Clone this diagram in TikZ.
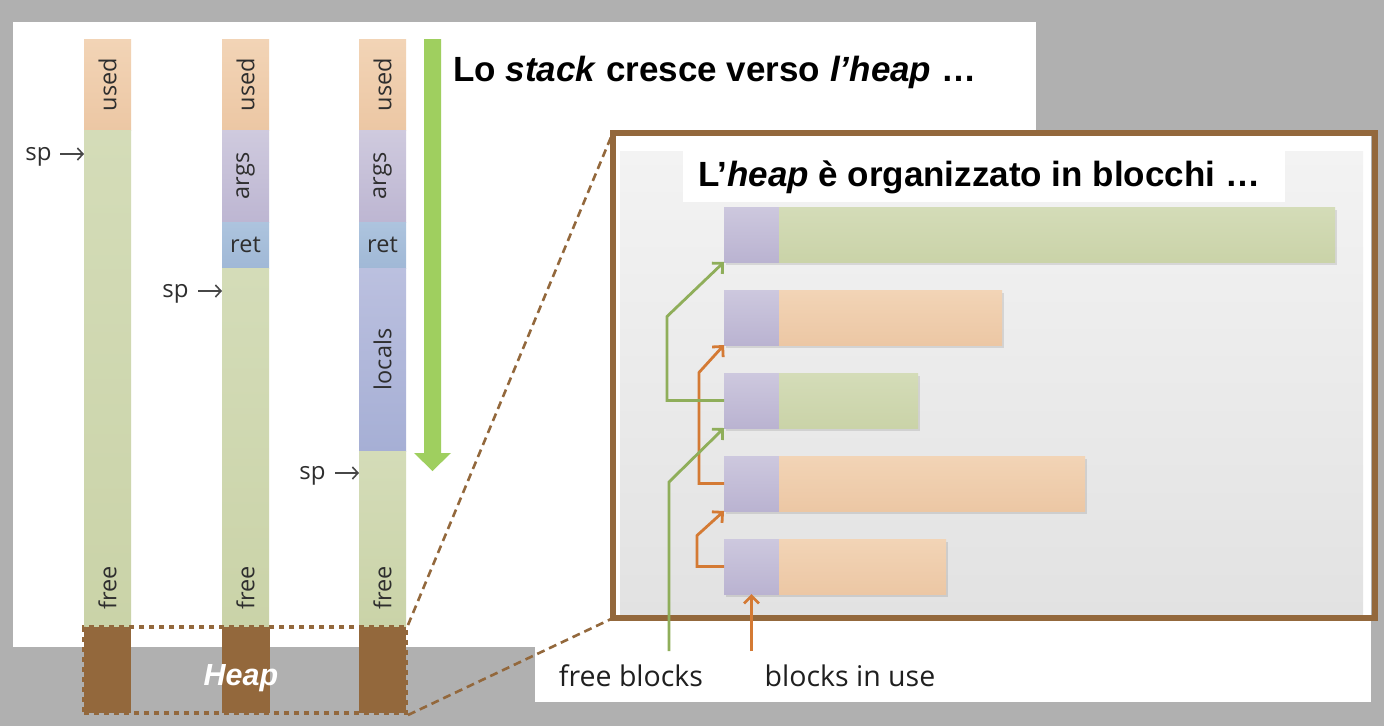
\documentclass[tikz,border=0pt]{standalone}
\usepackage{fontspec}
\setmainfont{Open Sans}
\newfontfamily\arialf{Liberation Sans}
\usetikzlibrary{arrows.meta}
\definecolor{bg}{HTML}{B0B0B0}
\definecolor{usedT}{HTML}{F2D4B6}
\definecolor{usedB}{HTML}{ECC7A4}
\definecolor{freeT}{HTML}{D4DCB8}
\definecolor{freeB}{HTML}{CAD3A8}
\definecolor{argsT}{HTML}{CFCADE}
\definecolor{argsB}{HTML}{BDB6D2}
\definecolor{retT}{HTML}{ADC4DE}
\definecolor{retB}{HTML}{A0B8D6}
\definecolor{locT}{HTML}{BBC0DF}
\definecolor{locB}{HTML}{A6AFD5}
\definecolor{hdrT}{HTML}{CDC8DE}
\definecolor{hdrB}{HTML}{BAB3D1}
\definecolor{brownc}{HTML}{93683C}
\definecolor{arrowgreen}{HTML}{9FCF5F}
\definecolor{lgreen}{HTML}{8FAE5A}
\definecolor{lorange}{HTML}{D47A34}
\definecolor{panelT}{HTML}{F3F3F3}
\definecolor{panelB}{HTML}{E2E2E2}
\definecolor{txt}{HTML}{2E2E2E}
\begin{document}
\begin{tikzpicture}[x=1pt,y=-1pt,
  seg/.style={inner sep=0pt, outer sep=0pt, minimum width=47pt, text=txt,
    font=\fontsize{23.5}{23.5}\selectfont},
  used/.style={seg, top color=usedT, bottom color=usedB},
  freeseg/.style={seg, top color=freeT, bottom color=freeB},
  argsseg/.style={seg, top color=argsT, bottom color=argsB},
  retseg/.style={seg, top color=retT, bottom color=retB},
  locseg/.style={seg, top color=locT, bottom color=locB},
  lbl/.style={inner sep=0pt, text=txt, font=\fontsize{23.5}{23.5}\selectfont},
  sptext/.style={inner sep=0pt, anchor=base, text=txt, font=\fontsize{24}{24}\selectfont},
  spar/.style={-{Straight Barb[length=5.5pt,width=12pt]}, line width=1.6pt, draw=black!72},
  heapcol/.style={fill=brownc, inner sep=0pt, minimum height=86pt},
  shadowed/.style={preaction={fill=black, fill opacity=0.10, transform canvas={shift={(2pt,-2.5pt)}}}},
  hdr/.style={inner sep=0pt, outer sep=0pt, minimum width=55pt, minimum height=55pt, top color=hdrT, bottom color=hdrB},
  bgreen/.style={inner sep=0pt, outer sep=0pt, minimum height=55pt, anchor=west, top color=freeT, bottom color=freeB},
  borange/.style={inner sep=0pt, outer sep=0pt, minimum height=55pt, anchor=west, top color=usedT, bottom color=usedB},
  gline/.style={draw=lgreen, line width=2.8pt, -{Straight Barb[length=7.5pt,width=15pt]}},
  oline/.style={draw=lorange, line width=2.8pt, -{Straight Barb[length=7.5pt,width=15pt]}},
  titlef/.style={inner sep=0pt, font=\arialf\bfseries\fontsize{35}{35}\selectfont},
  zoomline/.style={draw=brownc, line width=2.6pt, dash pattern=on 8pt off 5pt},
  caption/.style={inner sep=0pt, text=black!88, font=\fontsize{28.5}{28.5}\selectfont}
]
\useasboundingbox (0,0) rectangle (1384,726);
\fill[bg] (0,0) rectangle (1384,726);
% left white panel
\fill[white] (13,22) rectangle (1036,647);

% column 1
\node[used, minimum height=91pt] (c1used) at (107.5,84.5) {\rotatebox{90}{used}};
\node[freeseg, minimum height=497pt] (c1free) at (107.5,378.5) {};
\node[lbl] (c1freel) at (107.5,588) {\rotatebox{90}{free}};
% column 2
\node[used, minimum height=91pt] (c2used) at (245.5,84.5) {\rotatebox{90}{used}};
\node[argsseg, minimum height=92pt] (c2args) at (245.5,176) {\rotatebox{90}{args}};
\node[retseg, minimum height=46pt] (c2ret) at (245.5,245) {ret};
\node[freeseg, minimum height=359pt] (c2free) at (245.5,447.5) {};
\node[lbl] (c2freel) at (245.5,588) {\rotatebox{90}{free}};
% column 3
\node[used, minimum height=91pt] (c3used) at (382.5,84.5) {\rotatebox{90}{used}};
\node[argsseg, minimum height=92pt] (c3args) at (382.5,176) {\rotatebox{90}{args}};
\node[retseg, minimum height=46pt] (c3ret) at (382.5,245) {ret};
\node[locseg, minimum height=183pt] (c3loc) at (382.5,359.5) {\rotatebox{90}{locals}};
\node[freeseg, minimum height=176pt] (c3free) at (382.5,539) {};
\node[lbl] (c3freel) at (382.5,588) {\rotatebox{90}{free}};

% sp pointers
\node[sptext] (sp1) at (38.5,160.5) {sp};
\coordinate (sp1a) at (60,154);
\draw[spar] (sp1a) -- (sp1a -| c1free.west);
\node[sptext] (sp2) at (175.5,297.5) {sp};
\coordinate (sp2a) at (198,291);
\draw[spar] (sp2a) -- (sp2a -| c2free.west);
\node[sptext] (sp3) at (312.5,479.5) {sp};
\coordinate (sp3a) at (335,473);
\draw[spar] (sp3a) -- (sp3a -| c3free.west);

% big green arrow
\fill[arrowgreen] (424,39) -- (441,39) -- (441,453) -- (451,453) -- (432.5,471) -- (414,453) -- (424,453) -- cycle;
\node[titlef, anchor=west] (title1) at (453,72) {Lo \textit{stack} cresce verso \textit{l’heap} …};

% heap region under stacks
\node[heapcol, minimum width=47pt] (h1) at (107.5,670) {};
\node[heapcol, minimum width=48pt] (h2) at (246,670) {};
\node[heapcol, minimum width=47pt] (h3) at (382.5,670) {};
\node[draw=brownc, line width=4pt, dash pattern=on 5pt off 5pt, minimum width=322pt, minimum height=86pt, inner sep=0pt] (heapbox) at (245,670) {};
\node[inner sep=0pt, text=white, font=\arialf\bfseries\itshape\fontsize{30.5}{30.5}\selectfont] (heapl) at (241,678) {Heap};

% heap picture panel
\fill[white] (535,133) rectangle (1371,702);
\node[inner sep=0pt, minimum width=762pt, minimum height=485pt] (frame) at (994,375.5) {};
\draw[zoomline] (heapbox.north east) -- (frame.north west);
\draw[zoomline] (heapbox.south east) -- (frame.south west);
\shade[top color=panelT, bottom color=panelB] (620,151) rectangle (1363,615);
\node[fill=white, minimum width=602pt, minimum height=51pt, inner sep=0pt] (t2box) at (984,176.5) {};
\node[titlef] (title2) at (979,177) {L’\textit{heap} è organizzato in blocchi …};

% blocks
\node[hdr, shadowed] (hdr1) at (751.5,234.5) {};
\node[bgreen, shadowed, minimum width=556pt] (body1) at (hdr1.east) {};
\node[hdr, shadowed] (hdr2) at (751.5,317.5) {};
\node[borange, shadowed, minimum width=223pt] (body2) at (hdr2.east) {};
\node[hdr, shadowed] (hdr3) at (751.5,400.5) {};
\node[bgreen, shadowed, minimum width=139pt] (body3) at (hdr3.east) {};
\node[hdr, shadowed] (hdr4) at (751.5,483.5) {};
\node[borange, shadowed, minimum width=306pt] (body4) at (hdr4.east) {};
\node[hdr, shadowed] (hdr5) at (751.5,566.5) {};
\node[borange, shadowed, minimum width=167pt] (body5) at (hdr5.east) {};

\draw[draw=brownc, line width=6pt] (frame.north west) rectangle (frame.south east);

% captions
\node[caption] (fbl) at (631,676) {free blocks};
\node[caption] (biul) at (850,676) {blocks in use};
\coordinate (fbtop) at (669,651);
\coordinate (biutop) at (751.5,651);

% used list (orange)
\draw[oline] (biutop) -- (hdr5.south);
\draw[oline] (hdr5.west) -- ++(-27,0) -- ++(0,-31) -- (hdr4.south west);
\draw[oline] (hdr4.west) -- ++(-25,0) -- ++(0,-111) -- (hdr2.south west);
% free list (green)
\draw[gline] (fbtop) -- (669,482) -- (hdr3.south west);
\draw[gline] (hdr3.west) -- ++(-57,0) -- ++(0,-84) -- (hdr1.south west);
\end{tikzpicture}
\end{document}
